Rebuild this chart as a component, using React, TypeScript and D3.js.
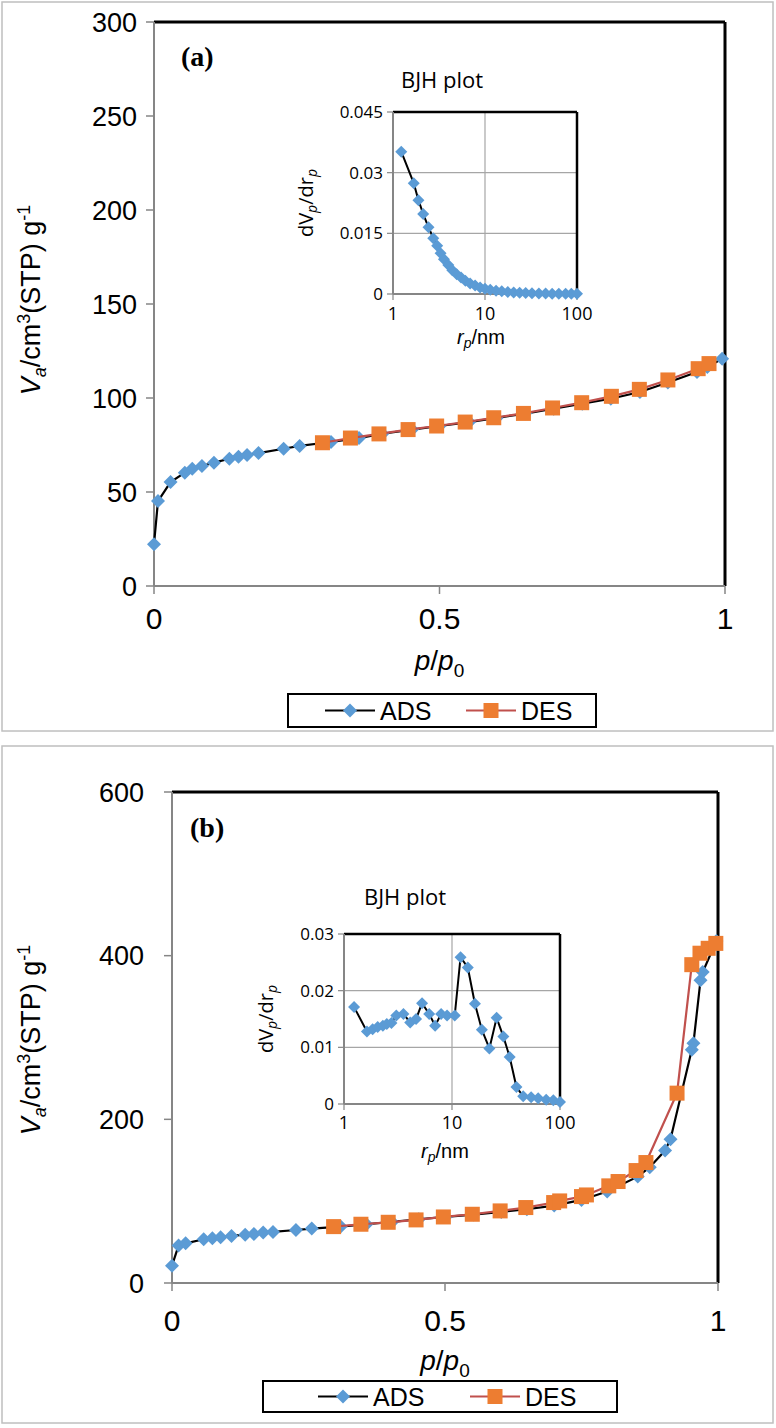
import * as d3 from "d3";

// Isotherm (a): adsorption / desorption branches
const adsAP = [0, 0.007, 0.029, 0.054, 0.067, 0.084, 0.105, 0.132, 0.148, 0.163, 0.183, 0.227, 0.255, 0.31, 0.359, 0.4, 0.452, 0.5, 0.552, 0.6, 0.65, 0.7, 0.75, 0.8, 0.851, 0.9, 0.951, 0.969, 0.995];
const adsAV = [22.2, 45.2, 55.3, 60.3, 62.4, 63.8, 65.6, 67.7, 68.8, 69.7, 70.7, 73.0, 74.5, 76.6, 78.7, 81.0, 83.2, 85.1, 87.2, 89.4, 91.7, 94.3, 97.0, 99.6, 103.2, 108.2, 113.8, 116.5, 120.9];
const desAP = [0.295, 0.344, 0.394, 0.445, 0.495, 0.545, 0.595, 0.647, 0.698, 0.749, 0.801, 0.85, 0.9, 0.953, 0.972];
const desAV = [76.2, 78.7, 80.9, 83.2, 85.1, 87.2, 89.5, 91.8, 94.7, 97.5, 100.9, 104.6, 109.6, 115.6, 118.3];

// BJH pore size distribution (a)
const bjhAR = [1.23, 1.68, 1.89, 2.13, 2.43, 2.74, 3.02, 3.29, 3.58, 3.99, 4.41, 4.92, 5.49, 6.12, 6.89, 7.81, 8.85, 10, 11.4, 13.2, 15.2, 17.7, 20.5, 23.8, 27.7, 32.4, 38.5, 45.6, 53.7, 63.4, 75.2, 86.7, 100];
const bjhAD = [0.0352, 0.0274, 0.0232, 0.0198, 0.0165, 0.0138, 0.0119, 0.0101, 0.0086, 0.0072, 0.0059, 0.0049, 0.0041, 0.0033, 0.0026, 0.0021, 0.0016, 0.0013, 0.00107, 0.00082, 0.00066, 0.0005, 0.0004, 0.00033, 0.00025, 0.00018, 0.00015, 0.0001, 0.00008, 0.00008, 0.00007, 0.00007, 0.00005];

// Isotherm (b)
const adsBP = [0, 0.012, 0.025, 0.058, 0.074, 0.089, 0.109, 0.134, 0.15, 0.167, 0.185, 0.227, 0.256, 0.309, 0.356, 0.403, 0.452, 0.501, 0.552, 0.603, 0.65, 0.7, 0.75, 0.797, 0.853, 0.875, 0.903, 0.913, 0.952, 0.955, 0.968, 0.972, 0.997];
const adsBV = [21.2, 45.7, 48.5, 53.4, 54.6, 55.9, 57.5, 59.1, 59.9, 61.6, 62.4, 64.8, 66.5, 68.9, 71.8, 74.6, 77.9, 80.7, 83.6, 86.9, 90.1, 94.6, 101.5, 111.7, 130, 141.5, 161.9, 175.7, 285, 293, 370, 380, 418];
const desBP = [0.296, 0.346, 0.396, 0.447, 0.497, 0.55, 0.601, 0.648, 0.699, 0.71, 0.75, 0.759, 0.8, 0.817, 0.85, 0.868, 0.925, 0.952, 0.967, 0.982, 0.996];
const desBV = [68.9, 71.8, 74.2, 77.1, 80.7, 84.0, 88.1, 92.2, 98.3, 100.3, 105.6, 107.6, 118.7, 124, 137.4, 147.2, 232, 389, 403, 409, 415];

// BJH pore size distribution (b)
const bjhBR = [1.24, 1.63, 1.84, 2.05, 2.29, 2.49, 2.75, 3.05, 3.55, 4.1, 4.65, 5.28, 6.15, 6.98, 7.93, 9.0, 10.6, 12.0, 14.0, 16.3, 18.9, 22.2, 25.9, 29.9, 34.2, 39.5, 45.6, 54, 62.8, 74.5, 86.7, 100];
const bjhBD = [0.0171, 0.0128, 0.0132, 0.0136, 0.0138, 0.0141, 0.0143, 0.0156, 0.0159, 0.0144, 0.015, 0.0178, 0.0159, 0.0138, 0.0159, 0.0156, 0.0156, 0.0259, 0.0241, 0.0177, 0.0131, 0.0098, 0.0152, 0.0119, 0.0083, 0.003, 0.00135, 0.00118, 0.001, 0.00076, 0.00065, 0.00035];

const yTicksA = [0, 50, 100, 150, 200, 250, 300];
const yTicksB = [0, 200, 400, 600];
const xTicks = [0, 0.5, 1];
const xTickLabels = ["0", "0.5", "1"];
const insetYTicksA = [0, 0.015, 0.03, 0.045];
const insetYLabelsA = ["0", "0.015", "0.03", "0.045"];
const insetYTicksB = [0, 0.01, 0.02, 0.03];
const insetYLabelsB = ["0", "0.01", "0.02", "0.03"];
const insetXTicks = [1, 10, 100];

const BLUE = "#5b9bd5";
const ORANGE = "#ed7d31";
const RED = "#c0504d";
const AXIS = "#868686";
const GRID = "#a6a6a6";
const SANS = "'Liberation Sans', Arial, sans-serif";
const NARROW = "'Liberation Sans Narrow', 'Liberation Sans', Arial, sans-serif";
const INSET_FONT = "'Open Sans', 'Liberation Sans', sans-serif";

const diamond = (r: number) => `M0,${-r}L${r},0L0,${r}L${-r},0Z`;

type Box = { l: number; r: number; t: number; b: number };

interface PanelProps {
  label: string;
  frame: Box;
  plot: Box;
  yTicks: number[];
  yLabelGap: number;
  adsP: number[];
  adsV: number[];
  desP: number[];
  desV: number[];
  inset: Box;
  insetYTicks: number[];
  insetYLabels: string[];
  bjhR: number[];
  bjhD: number[];
  bjhTitleX: number;
  bjhTitleY: number;
  rpTitleX: number;
  rpTitleY: number;
  insetTickY: number;
  dvLabelX: number;
  yTitleY: number;
  xLabelY: number;
  xTitleY: number;
  legend: Box;
  legendAdsX: number;
  legendDesX: number;
  labelX: number;
  labelY: number;
}

function Panel(p: PanelProps) {
  const x = d3.scaleLinear().domain([0, 1]).range([p.plot.l, p.plot.r]);
  const y = d3
    .scaleLinear()
    .domain([0, p.yTicks[p.yTicks.length - 1]])
    .range([p.plot.b, p.plot.t]);

  const ads = p.adsP.map((v, i) => [v, p.adsV[i]] as [number, number]);
  const des = p.desP.map((v, i) => [v, p.desV[i]] as [number, number]);
  const line = d3
    .line<[number, number]>()
    .x((d) => x(d[0]))
    .y((d) => y(d[1]));

  const ix = d3.scaleLog().domain([1, 100]).range([p.inset.l, p.inset.r]);
  const iy = d3
    .scaleLinear()
    .domain([0, p.insetYTicks[p.insetYTicks.length - 1]])
    .range([p.inset.b, p.inset.t]);
  const bjh = p.bjhR.map((r, i) => [r, p.bjhD[i]] as [number, number]);
  const iline = d3
    .line<[number, number]>()
    .x((d) => ix(d[0]))
    .y((d) => iy(d[1]));

  const legMid = (p.legend.t + p.legend.b) / 2;

  return (
    <g>
      <rect
        x={p.frame.l}
        y={p.frame.t}
        width={p.frame.r - p.frame.l}
        height={p.frame.b - p.frame.t}
        fill="#fff"
        stroke="#bfbfbf"
        strokeWidth={1.5}
      />

      {/* y axis ticks and labels */}
      {p.yTicks.map((t) => (
        <g key={"y" + t}>
          <line x1={p.plot.l - 8} x2={p.plot.l} y1={y(t)} y2={y(t)} stroke={AXIS} strokeWidth={1.5} />
          <text
            x={p.plot.l - p.yLabelGap}
            y={y(t)}
            dy="0.36em"
            textAnchor="end"
            fontFamily={SANS}
            fontSize={27}
            fill="#000"
          >
            {t}
          </text>
        </g>
      ))}
      {xTicks.map((t, i) => (
        <g key={"x" + t}>
          <line x1={x(t)} x2={x(t)} y1={p.plot.b} y2={p.plot.b + 8} stroke={AXIS} strokeWidth={1.5} />
          <text
            x={x(t)}
            y={p.xLabelY}
            dy="0.36em"
            textAnchor="middle"
            fontFamily={NARROW}
            fontSize={30}
          >
            {xTickLabels[i]}
          </text>
        </g>
      ))}

      {/* plot area border: black top/right, grey axes left/bottom */}
      <line x1={p.plot.l} x2={p.plot.r} y1={p.plot.t} y2={p.plot.t} stroke="#000" strokeWidth={3} />
      <line x1={p.plot.r} x2={p.plot.r} y1={p.plot.t} y2={p.plot.b} stroke="#000" strokeWidth={3} />
      <line x1={p.plot.l} x2={p.plot.l} y1={p.plot.t} y2={p.plot.b} stroke={AXIS} strokeWidth={2} />
      <line x1={p.plot.l} x2={p.plot.r} y1={p.plot.b} y2={p.plot.b} stroke={AXIS} strokeWidth={2} />

      <text x={p.labelX} y={p.labelY} fontFamily="'Liberation Serif', 'Times New Roman', serif" fontWeight="bold" fontSize={28}>
        {p.label}
      </text>

      {/* inset: BJH plot */}
      <text x={p.bjhTitleX} y={p.bjhTitleY} dy="0.36em" textAnchor="middle" fontFamily={INSET_FONT} fontSize={22}>
        BJH plot
      </text>
      {p.insetYTicks.map((t, i) => (
        <g key={"iy" + t}>
          {i > 0 && i < p.insetYTicks.length - 1 && (
            <line x1={p.inset.l} x2={p.inset.r} y1={iy(t)} y2={iy(t)} stroke={GRID} strokeWidth={1.2} />
          )}
          <line x1={p.inset.l - 6} x2={p.inset.l} y1={iy(t)} y2={iy(t)} stroke={AXIS} strokeWidth={1.2} />
          <text
            x={p.inset.l - 10}
            y={iy(t)}
            dy="0.36em"
            textAnchor="end"
            fontFamily={INSET_FONT}
            fontSize={17}
          >
            {p.insetYLabels[i]}
          </text>
        </g>
      ))}
      {insetXTicks.map((t) => (
        <g key={"ix" + t}>
          {t === 10 && (
            <line x1={ix(t)} x2={ix(t)} y1={p.inset.t} y2={p.inset.b} stroke={GRID} strokeWidth={1.2} />
          )}
          <line x1={ix(t)} x2={ix(t)} y1={p.inset.b} y2={p.inset.b + 6} stroke={AXIS} strokeWidth={1.2} />
          <text x={ix(t)} y={p.insetTickY} dy="0.36em" textAnchor="middle" fontFamily={INSET_FONT} fontSize={18}>
            {t}
          </text>
        </g>
      ))}
      <line x1={p.inset.l} x2={p.inset.r} y1={p.inset.t} y2={p.inset.t} stroke="#000" strokeWidth={2.5} />
      <line x1={p.inset.r} x2={p.inset.r} y1={p.inset.t} y2={p.inset.b} stroke="#000" strokeWidth={2.5} />
      <line x1={p.inset.l} x2={p.inset.l} y1={p.inset.t} y2={p.inset.b} stroke={AXIS} strokeWidth={2} />
      <line x1={p.inset.l} x2={p.inset.r} y1={p.inset.b} y2={p.inset.b} stroke={AXIS} strokeWidth={2} />
      <path d={iline(bjh) ?? ""} fill="none" stroke="#000" strokeWidth={2} />
      {bjh.map((d, i) => (
        <path key={"b" + i} d={diamond(6)} transform={`translate(${ix(d[0])},${iy(d[1])})`} fill={BLUE} />
      ))}
      <text
        transform={`translate(${p.dvLabelX},${(p.inset.t + p.inset.b) / 2}) rotate(-90)`}
        dy="0.36em"
        textAnchor="middle"
        fontFamily={INSET_FONT}
        fontSize={20}
      >
        dV
        <tspan fontStyle="italic" fontSize={14} dy={4}>p</tspan>
        <tspan dy={-4}>/dr</tspan>
        <tspan fontStyle="italic" fontSize={14} dy={4}>p</tspan>
      </text>
      <text x={p.rpTitleX} y={p.rpTitleY} dy="0.36em" textAnchor="middle" fontFamily={SANS} fontSize={20}>
        <tspan fontStyle="italic">r</tspan>
        <tspan fontStyle="italic" fontSize={14} dy={4}>p</tspan>
        <tspan dy={-4}>/nm</tspan>
      </text>

      {/* isotherm branches */}
      <path d={line(ads) ?? ""} fill="none" stroke="#000" strokeWidth={2.2} />
      {ads.map((d, i) => (
        <path key={"a" + i} d={diamond(7)} transform={`translate(${x(d[0])},${y(d[1])})`} fill={BLUE} />
      ))}
      <path d={line(des) ?? ""} fill="none" stroke={RED} strokeWidth={2.2} />
      {des.map((d, i) => (
        <rect key={"d" + i} x={x(d[0]) - 7.5} y={y(d[1]) - 7.5} width={15} height={15} fill={ORANGE} />
      ))}

      {/* axis titles */}
      <text
        transform={`translate(30,${p.yTitleY}) rotate(-90)`}
        dy="0.36em"
        textAnchor="middle"
        fontFamily={SANS}
        fontSize={27}
      >
        <tspan fontStyle="italic">V</tspan>
        <tspan fontStyle="italic" fontSize={18} dy={6}>a</tspan>
        <tspan dy={-6}>/cm</tspan>
        <tspan fontSize={18} dy={-10}>3</tspan>
        <tspan dy={10}>(STP) g</tspan>
        <tspan fontSize={18} dy={-10}>-1</tspan>
      </text>
      <text x={(p.plot.l + p.plot.r) / 2} y={p.xTitleY} dy="0.36em" textAnchor="middle" fontFamily={NARROW} fontSize={28}>
        <tspan fontStyle="italic">p</tspan>
        <tspan>/</tspan>
        <tspan fontStyle="italic">p</tspan>
        <tspan fontSize={19} dy={7}>0</tspan>
      </text>

      {/* legend */}
      <rect
        x={p.legend.l}
        y={p.legend.t}
        width={p.legend.r - p.legend.l}
        height={p.legend.b - p.legend.t}
        fill="#fff"
        stroke="#000"
        strokeWidth={2}
      />
      <line x1={p.legendAdsX} x2={p.legendAdsX + 50} y1={legMid} y2={legMid} stroke="#000" strokeWidth={2.2} />
      <path d={diamond(7)} transform={`translate(${p.legendAdsX + 25},${legMid})`} fill={BLUE} />
      <text x={p.legendAdsX + 55} y={legMid} dy="0.36em" fontFamily={NARROW} fontSize={25}>
        ADS
      </text>
      <line x1={p.legendDesX} x2={p.legendDesX + 50} y1={legMid} y2={legMid} stroke={RED} strokeWidth={2.2} />
      <rect x={p.legendDesX + 17.5} y={legMid - 7.5} width={15} height={15} fill={ORANGE} />
      <text x={p.legendDesX + 55} y={legMid} dy="0.36em" fontFamily={NARROW} fontSize={25}>
        DES
      </text>
    </g>
  );
}

export default function App() {
  return (
    <svg
      width={776}
      height={1428}
      style={{ position: "absolute", left: 0, top: 0, display: "block", background: "#fff" }}
    >
      <Panel
        label="(a)"
        frame={{ l: 2, r: 773, t: 2, b: 731 }}
        plot={{ l: 154, r: 725, t: 22, b: 586 }}
        yTicks={yTicksA}
        yLabelGap={17}
        adsP={adsAP}
        adsV={adsAV}
        desP={desAP}
        desV={desAV}
        inset={{ l: 393, r: 577, t: 112, b: 294 }}
        insetYTicks={insetYTicksA}
        insetYLabels={insetYLabelsA}
        bjhR={bjhAR}
        bjhD={bjhAD}
        bjhTitleX={442}
        bjhTitleY={80}
        rpTitleX={481}
        rpTitleY={337}
        insetTickY={314}
        dvLabelX={306}
        yTitleY={300}
        xLabelY={618}
        xTitleY={660}
        legend={{ l: 288, r: 596, t: 694, b: 727 }}
        legendAdsX={325}
        legendDesX={466}
        labelX={181}
        labelY={66}
      />
      <Panel
        label="(b)"
        frame={{ l: 2, r: 773, t: 746, b: 1423 }}
        plot={{ l: 172, r: 718, t: 792, b: 1283 }}
        yTicks={yTicksB}
        yLabelGap={28}
        adsP={adsBP}
        adsV={adsBV}
        desP={desBP}
        desV={desBV}
        inset={{ l: 344, r: 560, t: 934, b: 1104 }}
        insetYTicks={insetYTicksB}
        insetYLabels={insetYLabelsB}
        bjhR={bjhBR}
        bjhD={bjhBD}
        bjhTitleX={405}
        bjhTitleY={897}
        rpTitleX={445}
        rpTitleY={1151}
        insetTickY={1123}
        dvLabelX={266}
        yTitleY={1040}
        xLabelY={1320}
        xTitleY={1360}
        legend={{ l: 263, r: 617, t: 1381, b: 1412 }}
        legendAdsX={318}
        legendDesX={470}
        labelX={190}
        labelY={837}
      />
    </svg>
  );
}
